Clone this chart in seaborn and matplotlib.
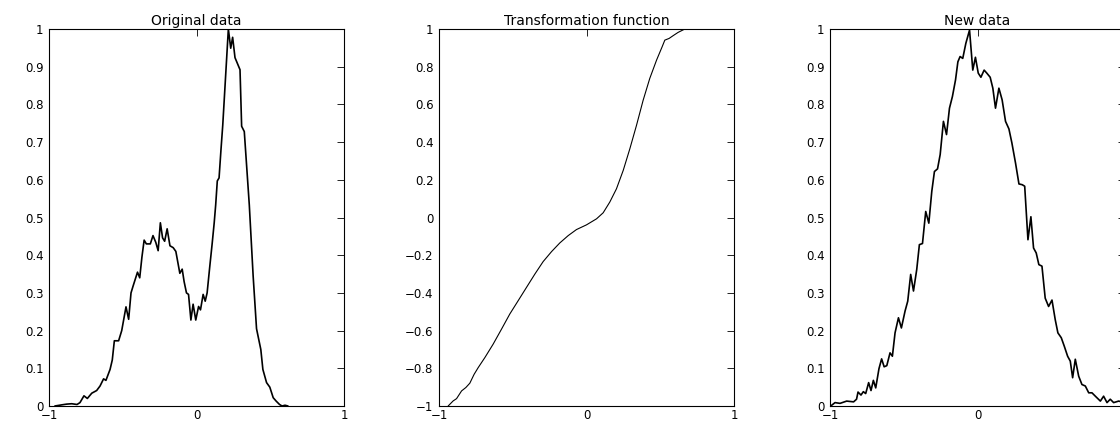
import matplotlib
matplotlib.use("Agg")
import matplotlib.pyplot as plt
import seaborn as sns
import pandas as pd

# values
orig_x = [-0.96, -0.914, -0.88, -0.846, -0.81, -0.79, -0.763, -0.74, -0.71, -0.677,
          -0.654, -0.63, -0.614, -0.586, -0.571, -0.557, -0.528, -0.507, -0.478, -0.46,
          -0.444, -0.43, -0.4, -0.385, -0.37, -0.355, -0.34, -0.313, -0.295, -0.276,
          -0.26, -0.245, -0.23, -0.216, -0.199, -0.18, -0.158, -0.14, -0.113, -0.097,
          -0.084, -0.068, -0.054, -0.038, -0.023, -0.005, 0.014, 0.027, 0.045, 0.059,
          0.072, 0.09, 0.106, 0.12, 0.13, 0.141, 0.153, 0.166, 0.178, 0.216,
          0.232, 0.245, 0.261, 0.295, 0.306, 0.324, 0.358, 0.384, 0.407, 0.436,
          0.45, 0.475, 0.497, 0.52, 0.54, 0.563, 0.58, 0.6, 0.62]
orig_y = [0.0, 0.003, 0.005, 0.006, 0.004, 0.009, 0.027, 0.02, 0.034, 0.041,
          0.053, 0.072, 0.068, 0.097, 0.122, 0.173, 0.173, 0.2, 0.263, 0.23,
          0.3, 0.318, 0.355, 0.34, 0.395, 0.44, 0.43, 0.43, 0.452, 0.434,
          0.412, 0.486, 0.446, 0.437, 0.47, 0.425, 0.42, 0.41, 0.352, 0.363,
          0.33, 0.3, 0.296, 0.228, 0.27, 0.228, 0.264, 0.255, 0.296, 0.278,
          0.3, 0.37, 0.43, 0.486, 0.533, 0.597, 0.605, 0.68, 0.745, 1.0,
          0.949, 0.978, 0.924, 0.892, 0.742, 0.728, 0.533, 0.345, 0.205, 0.15,
          0.097, 0.062, 0.05, 0.022, 0.013, 0.004, 0.0, 0.002, 0.0]

trans_x = [-0.938, -0.904, -0.881, -0.847, -0.818, -0.791, -0.762, -0.734, -0.689, -0.633,
           -0.576, -0.52, -0.463, -0.407, -0.35, -0.294, -0.237, -0.181, -0.124, -0.068,
           0.0, 0.068, 0.113, 0.158, 0.203, 0.249, 0.294, 0.339, 0.384, 0.429,
           0.475, 0.513, 0.531, 0.56, 0.588, 0.621, 0.667]
trans_y = [-1.0, -0.973, -0.961, -0.92, -0.902, -0.879, -0.832, -0.796, -0.743, -0.672,
           -0.592, -0.512, -0.441, -0.371, -0.3, -0.234, -0.181, -0.135, -0.096, -0.064,
           -0.039, -0.007, 0.025, 0.082, 0.152, 0.25, 0.365, 0.489, 0.622, 0.738,
           0.835, 0.906, 0.941, 0.95, 0.965, 0.982, 1.0]

new_x = [-0.995, -0.966, -0.932, -0.887, -0.84, -0.82, -0.81, -0.79, -0.774, -0.758,
         -0.738, -0.722, -0.706, -0.69, -0.668, -0.65, -0.633, -0.615, -0.593, -0.577,
         -0.559, -0.536, -0.516, -0.491, -0.473, -0.453, -0.434, -0.412, -0.394, -0.373,
         -0.351, -0.33, -0.31, -0.292, -0.271, -0.253, -0.231, -0.21, -0.19, -0.17,
         -0.149, -0.133, -0.118, -0.1, -0.079, -0.054, -0.032, -0.014, 0.005, 0.023,
         0.045, 0.063, 0.086, 0.104, 0.122, 0.145, 0.167, 0.19, 0.213, 0.233,
         0.258, 0.281, 0.303, 0.32, 0.342, 0.362, 0.38, 0.398, 0.416, 0.437,
         0.459, 0.482, 0.505, 0.527, 0.545, 0.568, 0.588, 0.611, 0.629, 0.645,
         0.663, 0.686, 0.708, 0.731, 0.754, 0.776, 0.799, 0.833, 0.855, 0.878,
         0.9, 0.923, 0.957, 0.99]
new_y = [0.0, 0.009, 0.007, 0.013, 0.011, 0.018, 0.037, 0.029, 0.038, 0.033,
         0.062, 0.041, 0.068, 0.048, 0.099, 0.125, 0.104, 0.107, 0.141, 0.132,
         0.194, 0.234, 0.207, 0.252, 0.278, 0.349, 0.305, 0.362, 0.428, 0.431,
         0.516, 0.485, 0.569, 0.622, 0.629, 0.667, 0.755, 0.72, 0.79, 0.821,
         0.865, 0.913, 0.927, 0.922, 0.962, 0.997, 0.891, 0.925, 0.883, 0.872,
         0.891, 0.883, 0.872, 0.843, 0.79, 0.843, 0.812, 0.755, 0.735, 0.698,
         0.644, 0.589, 0.587, 0.583, 0.441, 0.502, 0.419, 0.406, 0.375, 0.371,
         0.286, 0.264, 0.281, 0.229, 0.194, 0.181, 0.159, 0.132, 0.119, 0.075,
         0.124, 0.079, 0.057, 0.053, 0.035, 0.035, 0.026, 0.013, 0.026, 0.009,
         0.018, 0.009, 0.013, 0.01]

titles = ["Original data", "Transformation function", "New data"]
x_ticks = [-1, 0, 1]
y_ticks_hist = [0, 0.1, 0.2, 0.3, 0.4, 0.5, 0.6, 0.7, 0.8, 0.9, 1]
y_ticks_trans = [-1, -0.8, -0.6, -0.4, -0.2, 0, 0.2, 0.4, 0.6, 0.8, 1]


def tick_label(v):
    s = f"{v:g}"
    return s.replace("-", "\u2212")


sns.set_style("white")
plt.rcParams["font.family"] = ["DejaVu Sans"]
plt.rcParams["text.color"] = "black"

fig = plt.figure(figsize=(11.2, 4.22), dpi=100)
lefts = [49 / 1120, 439 / 1120, 830 / 1120]
w, h, b = 295 / 1120, 377 / 422, 16 / 422

panels = [
    (pd.DataFrame({"x": orig_x, "y": orig_y}), (0, 1), y_ticks_hist, 1.2),
    (pd.DataFrame({"x": trans_x, "y": trans_y}), (-1, 1), y_ticks_trans, 0.8),
    (pd.DataFrame({"x": new_x, "y": new_y}), (0, 1), y_ticks_hist, 1.2),
]

for i, (df, ylim, yt, lw) in enumerate(panels):
    ax = fig.add_axes([lefts[i], b, w, h])
    sns.lineplot(data=df, x="x", y="y", ax=ax, color="black", linewidth=lw,
                 estimator=None, sort=False)
    ax.set_xlim(-1, 1)
    ax.set_ylim(*ylim)
    ax.set_xticks(x_ticks)
    xl = [tick_label(v) for v in x_ticks]
    if i == 2:
        # the last "1" falls outside the picture in the reference
        xl[-1] = ""
    ax.set_xticklabels(xl)
    ax.set_yticks(yt)
    ax.set_yticklabels([tick_label(v) for v in yt])
    ax.set_xlabel("")
    ax.set_ylabel("")
    ax.tick_params(direction="in", top=True, right=True, length=5, width=0.6,
                   labelsize=8.5, pad=4, colors="black")
    ax.tick_params(axis="x", pad=2.5)
    for sp in ax.spines.values():
        sp.set_color("black")
        sp.set_linewidth(0.8)
    ax.set_title(titles[i], fontsize=10, pad=3, color="black")

fig.savefig("out.png", dpi=100)
